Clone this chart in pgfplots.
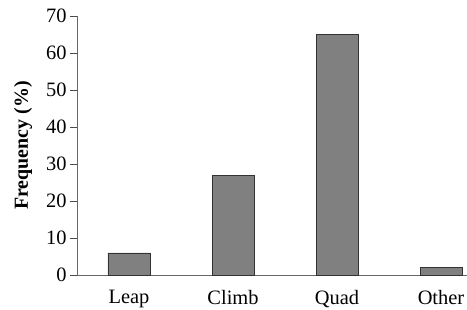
\documentclass[border=0pt]{standalone}
\usepackage{pgfplots}
\pgfplotsset{compat=1.18}
\usepackage{fontspec}
\setmainfont{Liberation Serif}
\begin{document}
\begin{tikzpicture}
\begin{axis}[
  name=ax,
  scale only axis,
  width=390bp, height=259bp,
  xmin=-0.5, xmax=3.25,
  ymin=0, ymax=70,
  ytick={0,10,...,70},
  xtick={0,1,2,3},
  xticklabels={Leap,Climb,Quad,Other},
  extra x ticks={0.5,1.5,2.5},
  extra x tick labels={},
  extra x tick style={major tick length=6bp, tick style={draw=black!70, line width=0.8pt}, tick align=outside},
  x tick style={draw=none},
  y tick style={draw=black!70, line width=0.8pt},
  major tick length=7bp,
  tick align=outside,
  axis lines*=left,
  axis line style={draw=black!60, line width=0.9pt},
  ylabel={\bfseries Frequency (\%)},
  ylabel style={font=\fontsize{20}{22}\selectfont, yshift=7bp},
  tick label style={font=\fontsize{20.5}{22}\selectfont},
  /pgf/number format/assume math mode=true,
  yticklabel style={xshift=0bp},
  xticklabel style={yshift=-5bp},
  ybar, bar width=42bp,
  clip=false,
]
\addplot[fill=gray, draw=black!80, line width=0.6pt] coordinates {(0,6) (1,27) (2,65) (3,2)};
\end{axis}
\pgfresetboundingbox
\path[use as bounding box] ([xshift=-77bp,yshift=-35bp]ax.south west) rectangle ([yshift=16bp]ax.north east);
\end{tikzpicture}
\end{document}
